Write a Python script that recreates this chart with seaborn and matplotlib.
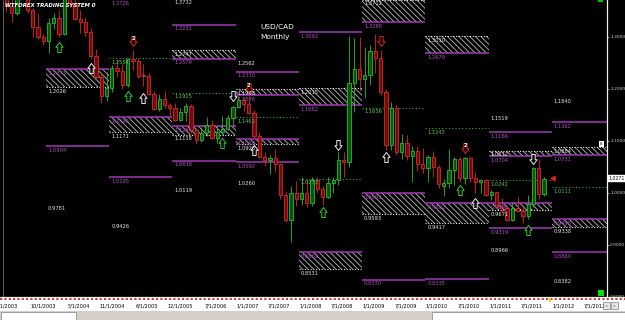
import matplotlib
matplotlib.use("Agg")
import matplotlib.pyplot as plt
from matplotlib.patches import Rectangle
from matplotlib.path import Path
from matplotlib.lines import Line2D
import numpy as np
import pandas as pd
import seaborn as sns

# ------------------------------------------------------------------ data
first_month = "2003-04"
opens = [1.4680, 1.4360, 1.3600, 1.3460, 1.4070, 1.3860, 1.3510, 1.3190, 1.2990,
         1.2920, 1.3260, 1.3360, 1.3060, 1.3720, 1.3640, 1.3340, 1.3280, 1.3100, 1.2620, 1.2220, 1.1860,
         1.2020, 1.2390, 1.2340, 1.2080, 1.2580, 1.2540, 1.2250, 1.2240, 1.1900, 1.1610, 1.1800, 1.1690,
         1.1630, 1.1400, 1.1560, 1.1670, 1.1200, 1.1020, 1.1150, 1.1300, 1.1060, 1.1160, 1.1230, 1.1430,
         1.1650, 1.1780, 1.1700, 1.1530, 1.1090, 1.0690, 1.0620, 1.0670, 1.0560, 0.9950, 0.9470, 0.9990,
         0.9880, 1.0000, 0.9800, 1.0250, 1.0070, 0.9920, 1.0180, 1.0240, 1.0620, 1.0600, 1.2110, 1.2380,
         1.2180, 1.2260, 1.2720, 1.2600, 1.1930, 1.0920, 1.1630, 1.0780, 1.0960, 1.0710, 1.0800, 1.0560,
         1.0470, 1.0680, 1.0500, 1.0130, 1.0180, 1.0430, 1.0650, 1.0290, 1.0660, 1.0280, 1.0200, 1.0250,
         0.9950, 1.0010, 0.9720, 0.9700, 0.9480, 0.9700, 0.9640, 0.9550, 0.9790, 1.0470, 0.9970]
highs = [1.4720, 1.4400, 1.3800, 1.4150, 1.4120, 1.3920, 1.3560, 1.3450, 1.3050,
         1.3360, 1.3450, 1.3510, 1.3820, 1.3970, 1.3790, 1.3510, 1.3380, 1.3160, 1.2760, 1.2300, 1.2330,
         1.2450, 1.2560, 1.2470, 1.2600, 1.2740, 1.2600, 1.2470, 1.2300, 1.1960, 1.1900, 1.1950, 1.1730,
         1.1720, 1.1620, 1.1730, 1.1710, 1.1240, 1.1270, 1.1450, 1.1400, 1.1280, 1.1470, 1.1500, 1.1670,
         1.1860, 1.1850, 1.1850, 1.1590, 1.1170, 1.0780, 1.0720, 1.0850, 1.0580, 1.0040, 1.0130, 1.0220,
         1.0300, 1.0250, 1.0300, 1.0300, 1.0120, 1.0300, 1.0300, 1.0780, 1.0790, 1.3010, 1.2970, 1.3000,
         1.2800, 1.2850, 1.3060, 1.2740, 1.2000, 1.1750, 1.1690, 1.1120, 1.1110, 1.0900, 1.0900, 1.0860,
         1.0720, 1.0800, 1.0540, 1.0270, 1.0850, 1.0680, 1.0680, 1.0690, 1.0680, 1.0400, 1.0270, 1.0260,
         1.0050, 1.0010, 0.9900, 0.9720, 0.9830, 0.9920, 0.9730, 0.9960, 1.0500, 1.0650, 1.0300]
lows = [1.4320, 1.3480, 1.3290, 1.3420, 1.3760, 1.3460, 1.3000, 1.2950, 1.2840,
        1.2680, 1.3150, 1.3000, 1.3040, 1.3560, 1.3320, 1.3070, 1.3020, 1.2590, 1.2180, 1.1720, 1.1760,
        1.1940, 1.2230, 1.1990, 1.2030, 1.2360, 1.2210, 1.2060, 1.1870, 1.1590, 1.1580, 1.1620, 1.1480,
        1.1380, 1.1370, 1.1380, 1.1150, 1.0940, 1.0980, 1.1090, 1.1040, 1.0960, 1.1120, 1.1210, 1.1300,
        1.1630, 1.1570, 1.1510, 1.1050, 1.0670, 1.0510, 1.0360, 1.0400, 0.9880, 0.9430, 0.9060, 0.9740,
        0.9770, 0.9720, 0.9750, 1.0000, 0.9770, 0.9900, 0.9990, 1.0150, 1.0300, 1.0500, 1.1550, 1.1950,
        1.1820, 1.2080, 1.2310, 1.1880, 1.0830, 1.0830, 1.0750, 1.0640, 1.0630, 1.0210, 1.0420, 1.0370,
        1.0200, 1.0300, 1.0100, 0.9930, 1.0100, 1.0150, 1.0210, 1.0160, 1.0200, 1.0000, 1.0000, 0.9930,
        0.9860, 0.9690, 0.9630, 0.9450, 0.9450, 0.9640, 0.9410, 0.9490, 0.9720, 0.9880, 0.9940]
closes = [1.4360, 1.3600, 1.3460, 1.4070, 1.3860, 1.3510, 1.3190, 1.2990, 1.2920,
          1.3260, 1.3360, 1.3060, 1.3720, 1.3640, 1.3340, 1.3280, 1.3100, 1.2620, 1.2220, 1.1860, 1.2020,
          1.2390, 1.2340, 1.2080, 1.2580, 1.2540, 1.2250, 1.2240, 1.1900, 1.1610, 1.1800, 1.1690, 1.1630,
          1.1400, 1.1560, 1.1670, 1.1200, 1.1020, 1.1150, 1.1300, 1.1060, 1.1160, 1.1230, 1.1430, 1.1650,
          1.1780, 1.1700, 1.1530, 1.1090, 1.0690, 1.0620, 1.0670, 1.0560, 0.9950, 0.9470, 0.9990, 0.9880,
          1.0000, 0.9800, 1.0250, 1.0070, 0.9920, 1.0180, 1.0240, 1.0620, 1.0600, 1.2110, 1.2380, 1.2180,
          1.2260, 1.2720, 1.2600, 1.1930, 1.0920, 1.1630, 1.0780, 1.0960, 1.0710, 1.0800, 1.0560, 1.0470,
          1.0680, 1.0500, 1.0160, 1.0180, 1.0430, 1.0650, 1.0290, 1.0660, 1.0280, 1.0200, 1.0250, 0.9950,
          1.0010, 0.9720, 0.9700, 0.9480, 0.9700, 0.9640, 0.9550, 0.9790, 1.0470, 0.9970, 1.0271]

# yearly levels (each drawn across its calendar year)
purple_years = [2004, 2005, 2005, 2006, 2006, 2007, 2007, 2008, 2009, 2010, 2011, 2011, 2012, 2012]
purple_values = [1.0904, 1.3726, 1.0295, 1.3232, 1.0618, 1.2330, 1.0592, 1.3092, 0.8330, 0.8335,
                 1.1166, 0.9319, 1.1362, 0.8860]
pivot_years = [2005, 2006, 2007, 2008, 2009, 2010, 2011, 2012]
pivot_values = [1.2584, 1.1925, 1.1461, 1.0273, 1.1636, 1.1243, 1.0242, 1.0111]
text_years = [2004, 2005, 2006, 2006, 2007, 2007, 2011, 2011, 2012, 2012]
text_values = [0.9781, 0.9426, 1.3732, 1.0119, 1.2562, 1.0260, 1.1519, 0.8966, 1.1840, 0.8382]
zone_years = [2004, 2005, 2006, 2006, 2007, 2007, 2008, 2008, 2009, 2009, 2010, 2010, 2011, 2011, 2012, 2012]
zone_tops = [1.2373, 1.1449, 1.2747, 1.1285, 1.1998, 1.1030, 1.2015, 0.8862, 1.3712, 0.9993,
             1.3010, 0.9802, 1.0812, 0.9806, 1.0884, 0.9495]
zone_bottoms = [1.2026, 1.1171, 1.2579, 1.1118, 1.1876, 1.0928, 1.1682, 0.8531, 1.3288, 0.9593,
                1.2679, 0.9417, 1.0704, 0.9671, 1.0731, 0.9338]
zone_kinds = ["S", "S", "R", "S", "R", "S", "R", "S", "R", "S", "R", "S", "R", "S", "R", "S"]

# signal arrows
arrow_months = ["2004-03", "2004-09", "2005-04", "2005-07", "2006-10", "2007-04", "2008-05",
                "2009-05", "2010-07", "2010-10", "2011-08",
                "2006-12", "2008-08", "2011-09",
                "2005-05", "2007-03", "2010-08", "2009-04"]
arrow_prices = [1.2802, 1.2398, 1.1860, 1.1821, 1.0956, 1.0821, 0.9629,
                1.0687, 1.0052, 0.9793, 0.9283,
                1.1860, 1.0918, 1.0658,
                1.2927, 1.2023, 1.0869, 1.2908]
arrow_kinds = ["up_green", "up_white", "up_green", "up_white", "up_green", "up_white", "up_green",
               "up_white", "up_green", "up_white", "up_green",
               "down_white", "down_white", "down_white",
               "down_red2", "down_red2", "down_red2", "down_red"]

date_labels = ["1/1/2003", "10/1/2003", "5/1/2004", "11/1/2004", "6/1/2005", "12/1/2005",
               "7/1/2006", "1/1/2007", "7/1/2007", "1/1/2008", "7/1/2008", "1/1/2009",
               "7/1/2009", "1/1/2010", "7/1/2010", "1/1/2011", "7/1/2011", "1/1/2012", "7/1/2012"]
price_ticks = [0.8, 0.9, 1.0, 1.1, 1.2, 1.3]
last_price = 1.0271

# ------------------------------------------------------------------ style
sns.set_theme(style="dark", rc={"axes.facecolor": "black", "figure.facecolor": "black",
                                "hatch.linewidth": 0.55, "hatch.color": "#c8c8c8"})
plt.rcParams["font.family"] = ["DejaVu Sans"]

W, H = 625, 320
RED, RED_FILL = "#e02424", "#6a0e0e"
GREEN, GREEN_FILL = "#22c022", "#0c520c"
PURPLE, PURPLE_TXT = "#a238b6", "#b44cc8"
PIV, PIV_TXT = "#3caa3c", "#58c858"
WHITE_TXT = "#e6e6e6"
FS = 3.7

fig = plt.figure(figsize=(W / 100, H / 100), dpi=100, facecolor="black")
ax = fig.add_axes([3 / W, 1 - 297 / H, 604 / W, 297 / H])
ax.set_facecolor("black")
ax.grid(False)
XMIN, XMAX = 3.35, 117.96
YMIN, YMAX = 0.7995, 1.3706
ax.set_xlim(XMIN, XMAX)
ax.set_ylim(YMIN, YMAX)


def month_index(period):
    return (period.year - 2003) * 12 + period.month - 1


def year_start(year):
    return (year - 2003) * 12 - 0.5


def level_label(x, y, text, color):
    ax.annotate(text, xy=(x, y), xytext=(1.4, -1.3), textcoords="offset points",
                ha="left", va="top", fontsize=FS, color=color, zorder=7,
                annotation_clip=False)


# ------------------------------------------------------------------ zones
for yr, top, bot, kind in zip(zone_years, zone_tops, zone_bottoms, zone_kinds):
    x0 = year_start(yr)
    ax.add_patch(Rectangle((x0, bot), 12, top - bot, facecolor="none",
                           edgecolor="#c8c8c8", hatch="\\" * 6, lw=0, zorder=1))
    top_col = "white" if kind == "R" else PURPLE
    bot_col = PURPLE if kind == "R" else "white"
    for val, col in ((top, top_col), (bot, bot_col)):
        if col == "white":
            ax.hlines(val, x0, x0 + 12, colors="#e8e8e8", lw=0.8, linestyles=(0, (1, 1.5)), zorder=2)
            level_label(x0, val, f"{val:.4f}", WHITE_TXT)
        else:
            ax.hlines(val, x0, x0 + 12, colors=PURPLE, lw=1.1, zorder=2)
            level_label(x0, val, f"{val:.4f}", PURPLE_TXT)

for yr, val in zip(purple_years, purple_values):
    x0 = year_start(yr)
    ax.hlines(val, x0, x0 + 12, colors=PURPLE, lw=1.1, zorder=2)
    level_label(x0, val, f"{val:.4f}", PURPLE_TXT)

for yr, val in zip(pivot_years, pivot_values):
    x0 = year_start(yr)
    ax.hlines(val, x0, x0 + 12, colors=PIV, lw=0.8, linestyles=(0, (1, 2)), zorder=2)
    level_label(x0, val, f"{val:.4f}", PIV_TXT)

for yr, val in zip(text_years, text_values):
    level_label(year_start(yr), val, f"{val:.4f}", WHITE_TXT)

# ------------------------------------------------------------------ candles
df = pd.DataFrame({"open": opens, "high": highs, "low": lows, "close": closes})
df["period"] = pd.period_range(first_month, periods=len(df), freq="M")
df["m"] = [month_index(p) for p in df["period"]]
up = df["close"] >= df["open"]
edge = np.where(up, GREEN, RED)
fill = np.where(up, GREEN_FILL, RED_FILL)
ax.vlines(df["m"], df["low"], df["high"], colors=edge, lw=0.6, zorder=3)
body = np.maximum((df["close"] - df["open"]).abs(), 0.0015)
ax.bar(df["m"], body, bottom=np.minimum(df["open"], df["close"]), width=0.62,
       color=fill, edgecolor=edge, linewidth=0.6, zorder=4)

# ------------------------------------------------------------------ arrows
up_v = [(-0.17, -0.5), (0.17, -0.5), (0.17, 0.02), (0.36, 0.02), (0, 0.5),
        (-0.36, 0.02), (-0.17, 0.02), (-0.17, -0.5)]
up_path = Path(up_v, closed=True)
down_path = Path([(x, -y) for x, y in up_v], closed=True)
arrow_colors = {"green": "#2ecc2e", "white": "#e8e8e8", "red": "#d42020", "red2": "#d42020"}
for mo, pr, kind in zip(arrow_months, arrow_prices, arrow_kinds):
    direction, col = kind.split("_")
    xm = month_index(pd.Period(mo, freq="M"))
    ax.scatter([xm], [pr], marker=up_path if direction == "up" else down_path, s=52,
               facecolor="#1a0000" if col.startswith("red") else "black",
               edgecolor=arrow_colors[col], linewidth=0.7, zorder=6)
    if col == "red2":
        ax.text(xm, pr + 0.003, "2", ha="center", va="center", fontsize=3.6,
                color="white", fontweight="bold", zorder=7)

# red pointer at the last candle
last_m = df["m"].iloc[-1]
ax.annotate("", xy=(last_m + 0.6, last_price), xytext=(last_m + 2.5, last_price),
            arrowprops=dict(arrowstyle="-|>,head_length=0.25,head_width=0.15",
                            color="#d42020", lw=0.8), zorder=7)

# ------------------------------------------------------------------ axes
ax.set_xticks([])
ax.yaxis.tick_right()
ax.set_yticks(price_ticks)
ax.set_yticklabels([f"{v:.4f}" for v in price_ticks])
ax.tick_params(axis="y", colors="#d0d0d0", labelsize=3.2, length=1.5, width=0.5, pad=0.8)
for side in ("top", "bottom"):
    ax.spines[side].set_visible(False)
ax.spines["right"].set_color("#f0f0f0")
ax.spines["right"].set_linewidth(0.9)
ax.spines["left"].set_color("#707070")
ax.spines["left"].set_linewidth(0.6)

# last price box on the axis
ax.annotate(f"{last_price:.4f}", xy=(1.0, last_price), xycoords=("axes fraction", "data"),
            xytext=(1.3, 0), textcoords="offset points", ha="left", va="center",
            fontsize=3.3, color="black", zorder=8, annotation_clip=False,
            bbox=dict(boxstyle="square,pad=0.2", fc="white", ec="white", lw=0.3))

# titles
fig.text(5 / W, 1 - 5.5 / H, "WTFOREX TRADING SYSTEM 0", color="white", fontsize=3.9,
         fontweight="bold", fontstyle="italic", ha="left", va="center")
fig.text(260 / W, 1 - 27 / H, "USD/CAD", color="white", fontsize=5.3, ha="left", va="center")
fig.text(260 / W, 1 - 36.5 / H, "Monthly", color="white", fontsize=5.3, ha="left", va="center")


def px_rect(x0, y0, x1, y1, **kw):
    fig.add_artist(Rectangle((x0 / W, 1 - y1 / H), (x1 - x0) / W, (y1 - y0) / H,
                             transform=fig.transFigure, **kw))


# bottom date strip
px_rect(0, 297, W, 320, facecolor="white", edgecolor="none", zorder=-2)
px_rect(0, 311, W, 320, facecolor="#d4d0c8", edgecolor="none", zorder=-1)
px_rect(1, 312, 76, 320, facecolor="white", edgecolor="#808080", lw=0.5, zorder=-1)
px_rect(432, 312, 625, 320, facecolor="white", edgecolor="#808080", lw=0.5, zorder=-1)
fig.add_artist(Line2D([0, 1], [1 - 296.8 / H] * 2, transform=fig.transFigure,
                      color="#f0f0f0", lw=0.9, zorder=5))
fig.add_artist(Line2D([0, 1], [1 - 298.6 / H] * 2, transform=fig.transFigure,
                      color="#c02828", lw=1.3, linestyle=(0, (1.2, 1.2)), zorder=5))
px_rect(549, 298, 551, 302, facecolor="#f0d000", edgecolor="none", zorder=6)
px_rect(603, 302, 610, 309, facecolor="#e8e8e8", edgecolor="#606060", lw=0.4, zorder=6)
px_rect(611, 302, 618, 309, facecolor="#e8e8e8", edgecolor="#606060", lw=0.4, zorder=6)
fig.text(606.5 / W, 1 - 305.5 / H, "<", fontsize=2.6, color="#303030", ha="center", va="center", zorder=7)
fig.text(614.5 / W, 1 - 305.5 / H, ">", fontsize=2.6, color="#303030", ha="center", va="center", zorder=7)

# small chart widgets
px_rect(598, 290, 604, 296, facecolor="#00e000", edgecolor="none", zorder=6)
px_rect(598, 0, 603, 2, facecolor="#00c000", edgecolor="none", zorder=6)
px_rect(599, 141, 604, 147, facecolor="white", edgecolor="none", zorder=6)
fig.text(601.5 / W, 1 - 144 / H, "8", fontsize=3.0, color="black", ha="center", va="center", zorder=7)

for lab in date_labels:
    mo, _, yr = lab.split("/")
    xm = (int(yr) - 2003) * 12 + int(mo) - 1 - 0.4
    xm = max(xm, 2.0)
    ax.text(xm, -9.3 / 297, lab, transform=ax.get_xaxis_transform(), ha="left", va="center",
            fontsize=3.6, color="black", clip_on=False)

fig.savefig("out.png", dpi=100, facecolor="black")
